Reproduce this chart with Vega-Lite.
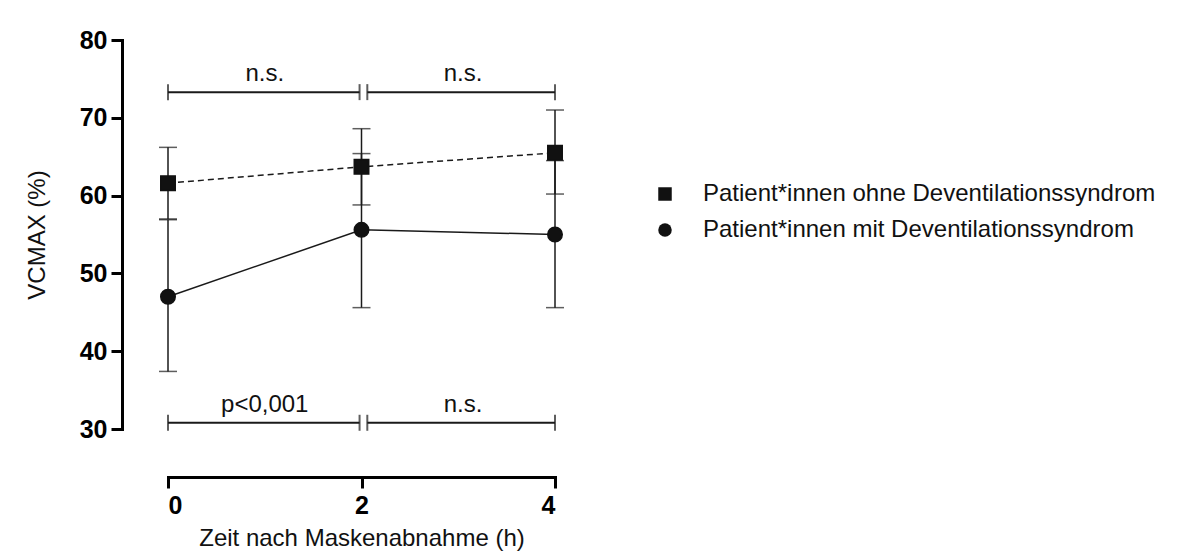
{
  "$schema": "https://vega.github.io/schema/vega-lite/v6.json",
  "autosize": "none",
  "width": 387,
  "height": 389,
  "padding": {"left": 168, "top": 40, "right": 622, "bottom": 127},
  "background": "white",
  "datasets": {
    "pts": [
      {"t": 0, "g": "Patient*innen ohne Deventilationssyndrom", "m": 61.6, "lo": 57.0, "hi": 66.2},
      {"t": 2, "g": "Patient*innen ohne Deventilationssyndrom", "m": 63.7, "lo": 58.8, "hi": 68.6},
      {"t": 4, "g": "Patient*innen ohne Deventilationssyndrom", "m": 65.5, "lo": 60.2, "hi": 71.0},
      {"t": 0, "g": "Patient*innen mit Deventilationssyndrom", "m": 47.0, "lo": 37.4, "hi": 56.9},
      {"t": 2, "g": "Patient*innen mit Deventilationssyndrom", "m": 55.6, "lo": 45.6, "hi": 65.4},
      {"t": 4, "g": "Patient*innen mit Deventilationssyndrom", "m": 55.0, "lo": 45.6, "hi": 64.5}
    ],
    "brackets": [
      {"x1": 0, "x2": 1.98, "xm": 1.0, "y": 73.3, "label": "n.s."},
      {"x1": 2.06, "x2": 4, "xm": 3.05, "y": 73.3, "label": "n.s."},
      {"x1": 0, "x2": 1.98, "xm": 1.0, "y": 30.8, "label": "p<0,001"},
      {"x1": 2.06, "x2": 4, "xm": 3.05, "y": 30.8, "label": "n.s."}
    ]
  },
  "layer": [
    {
      "data": {"name": "pts"},
      "mark": {"type": "errorbar", "ticks": {"size": 18, "thickness": 1.5, "color": "#1a1a1a"}, "rule": {"strokeWidth": 1.5, "color": "#1a1a1a"}},
      "encoding": {
        "x": {"field": "t", "type": "quantitative", "scale": {"domain": [0, 4], "nice": false, "zero": false}, "axis": {"values": [0, 2, 4], "format": "d"}, "title": "Zeit nach Maskenabnahme (h)"},
        "y": {"field": "lo", "type": "quantitative", "scale": {"domain": [30, 80], "nice": false, "zero": false}, "axis": {"values": [30, 40, 50, 60, 70, 80], "format": "d"}, "title": "VCMAX (%)"},
        "y2": {"field": "hi"}
      }
    },
    {
      "data": {"name": "pts"},
      "transform": [{"filter": "datum.g === 'Patient*innen ohne Deventilationssyndrom'"}],
      "mark": {"type": "line", "color": "#1a1a1a", "strokeWidth": 1.5, "strokeDash": [6, 4]},
      "encoding": {
        "x": {"field": "t", "type": "quantitative", "title": "Zeit nach Maskenabnahme (h)"},
        "y": {"field": "m", "type": "quantitative", "title": "VCMAX (%)"}
      }
    },
    {
      "data": {"name": "pts"},
      "transform": [{"filter": "datum.g === 'Patient*innen mit Deventilationssyndrom'"}],
      "mark": {"type": "line", "color": "#1a1a1a", "strokeWidth": 1.5},
      "encoding": {
        "x": {"field": "t", "type": "quantitative", "title": "Zeit nach Maskenabnahme (h)"},
        "y": {"field": "m", "type": "quantitative", "title": "VCMAX (%)"}
      }
    },
    {
      "data": {"name": "pts"},
      "mark": {"type": "point", "filled": false, "color": "#111111", "fill": "#111111", "fillOpacity": 1, "strokeWidth": 1.5, "opacity": 1, "size": 210},
      "encoding": {
        "x": {"field": "t", "type": "quantitative", "title": "Zeit nach Maskenabnahme (h)"},
        "y": {"field": "m", "type": "quantitative", "title": "VCMAX (%)"},
        "shape": {
          "field": "g", "type": "nominal",
          "scale": {"domain": ["Patient*innen ohne Deventilationssyndrom", "Patient*innen mit Deventilationssyndrom"], "range": ["square", "circle"]},
          "legend": {
            "title": null, "orient": "none", "legendX": 485, "legendY": 142,
            "labelFontSize": 24, "labelFont": "Liberation Sans", "labelColor": "#111111", "labelLimit": 0,
            "symbolSize": 182, "labelOffset": 26, "rowPadding": 12, "padding": 0,
            "symbolFillColor": "#111111", "symbolStrokeColor": "#111111", "symbolStrokeWidth": 1.5,
            "encode": {"symbols": {"update": {
              "shape": {"signal": "datum.value === 'Patient*innen ohne Deventilationssyndrom' ? 'M -2.5 0 L -1.95 0 M -1.55 0 L -1 0 M 1 0 L 1.55 0 M 1.95 0 L 2.5 0 M -1 -1 L 1 -1 L 1 1 L -1 1 Z' : 'M -2.5 0 L -1 0 M 1 0 L 2.5 0 M 1.05 0 L 0.91 0.53 L 0.53 0.91 L 0 1.05 L -0.53 0.91 L -0.91 0.53 L -1.05 0 L -0.91 -0.53 L -0.53 -0.91 L 0 -1.05 L 0.53 -0.91 L 0.91 -0.53 Z'"},
              "stroke": {"value": "#111111"}, "strokeWidth": {"value": 1.5}, "fill": {"value": "#111111"}
            }}}
          }
        }
      }
    },
    {
      "data": {"name": "brackets"},
      "mark": {"type": "errorbar", "ticks": {"size": 16, "thickness": 2, "color": "#1a1a1a"}, "rule": {"strokeWidth": 2, "color": "#1a1a1a"}},
      "encoding": {
        "x": {"field": "x1", "type": "quantitative", "title": "Zeit nach Maskenabnahme (h)"},
        "x2": {"field": "x2"},
        "y": {"field": "y", "type": "quantitative", "title": "VCMAX (%)"}
      }
    },
    {
      "data": {"name": "brackets"},
      "mark": {"type": "text", "fontSize": 24, "font": "Liberation Sans", "color": "#111111", "baseline": "alphabetic", "align": "center", "dy": -11},
      "encoding": {
        "x": {"field": "xm", "type": "quantitative", "title": "Zeit nach Maskenabnahme (h)"},
        "y": {"field": "y", "type": "quantitative", "title": "VCMAX (%)"},
        "text": {"field": "label"}
      }
    }
  ],
  "config": {
    "view": {"stroke": null},
    "font": "Liberation Sans",
    "axis": {
      "grid": false, "domainColor": "#000000", "domainWidth": 3, "tickColor": "#000000", "tickWidth": 3, "tickSize": 11,
      "labelFont": "Liberation Sans", "labelFontSize": 25, "labelFontWeight": "bold", "labelColor": "#000000",
      "titleFont": "Liberation Sans", "titleFontSize": 24, "titleFontWeight": "normal", "titleColor": "#111111",
      "domainCap": "square"
    },
    "axisX": {"offset": 48, "labelPadding": 5, "titlePadding": 8},
    "axisY": {"offset": 46, "labelPadding": 4, "titlePadding": 30}
  }
}
